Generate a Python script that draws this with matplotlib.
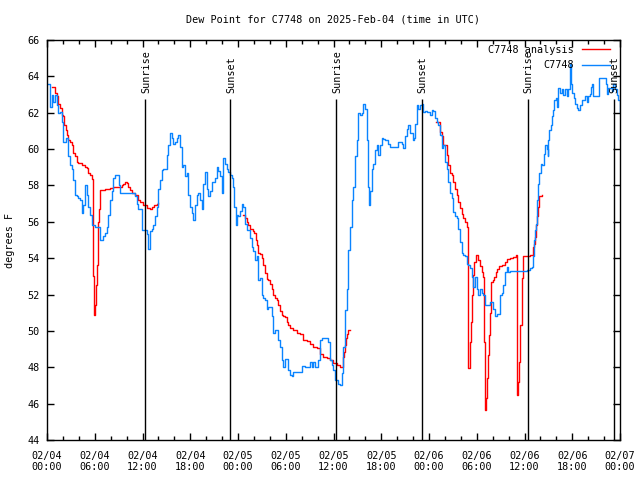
import numpy as np
import matplotlib
matplotlib.use("Agg")
import matplotlib.pyplot as plt
from matplotlib.ticker import MultipleLocator, FixedLocator

nan = float("nan")

# hours since 2025-02-04 00:00 UTC
obs_hours = [0.16, 0.38, 0.59, 0.79, 1.01, 1.26, 1.42, 1.63, 1.85, 1.95, 2.05, 2.35, 2.68, 2.89, 3.10, 3.30,
             3.52, 3.73, 3.93, 4.15, 4.36, 4.56, 4.81, 4.99, 5.19, 5.40, 5.62, 6.03, 6.45, 6.66, 6.87, 7.07,
             7.29, 7.50, 7.70, 7.92, 8.13, 8.33, 8.54, 8.96, 9.05, 9.17, 10.05, 10.97, 11.06, 11.27, 11.47,
             11.90, 11.98, 12.31, 12.53, 12.73, 12.94, 13.16, 13.36, 13.57, 13.78, 13.99, 14.20, 14.41, 14.61,
             15.04, 15.12, 15.24, 15.46, 15.67, 15.87, 16.08, 16.30, 16.50, 16.71, 16.93, 17.13, 17.34, 17.55,
             17.76, 17.97, 18.18, 18.38, 18.60, 18.81, 19.01, 19.23, 19.44, 19.64, 19.85, 20.07, 20.27, 20.48,
             20.70, 21.11, 21.32, 21.53, 21.74, 21.95, 22.15, 22.37, 22.58, 22.78, 23.00, 23.21, 23.41, 23.50,
             23.71, 23.84, 24.04, 24.25, 24.47, 24.67, 24.88, 25.09, 25.30, 25.51, 25.72, 25.92, 26.14, 26.35,
             26.55, 26.76, 26.98, 27.18, 27.39, 27.61, 27.81, 28.02, 28.24, 28.44, 28.65, 28.87, 29.07, 29.28,
             29.49, 29.70, 29.91, 30.12, 30.32, 30.54, 30.75, 30.95, 31.38, 31.79, 32.00, 32.42, 32.84, 33.05,
             33.26, 33.46, 33.68, 34.09, 34.31, 34.52, 35.15, 35.35, 35.56, 35.78, 35.98, 36.19, 36.40, 36.60,
             36.82, 37.03, 37.23, 37.45, 37.66, 37.86, 38.08, 38.29, 38.49, 38.70, 38.92, 39.12, 39.33, 39.55,
             39.75, 39.96, 40.17, 40.37, 40.50, 40.63, 40.80, 41.00, 41.22, 41.43, 41.63, 41.84, 42.06, 42.26,
             42.47, 42.89, 43.10, 43.94, 44.14, 44.36, 44.57, 44.77, 44.99, 45.20, 45.40, 45.61, 45.83, 46.03,
             46.16, 46.24, 46.46, 46.66, 46.87, 47.08, 47.29, 47.50, 47.71, 48.13, 48.34, 48.54, 48.76, 48.97,
             49.17, 49.38, 49.60, 49.80, 50.01, 50.22, 50.43, 50.64, 50.85, 51.06, 51.27, 51.48, 51.69, 51.90,
             52.11, 52.31, 52.53, 52.74, 52.94, 53.15, 53.37, 53.57, 53.78, 53.99, 54.20, 54.41, 54.62, 54.82,
             55.04, 55.45, 55.67, 55.88, 56.08, 56.30, 56.51, 56.71, 56.92, 57.14, 57.34, 57.55, 57.77, 57.97,
             58.18, 60.07, 60.28, 60.48, 60.69, 60.91, 61.03, 61.20, 61.32, 61.45, 61.54, 61.61, 61.74, 61.86,
             62.04, 62.16, 62.37, 62.49, 62.58, 62.79, 62.92, 63.00, 63.12, 63.30, 63.42, 63.62, 63.75, 63.92,
             64.05, 64.25, 64.46, 64.68, 64.88, 65.09, 65.31, 65.51, 65.72, 65.85, 66.01, 66.22, 66.35, 66.56,
             66.76, 66.98, 67.19, 67.39, 67.61, 67.82, 68.02, 68.23, 68.36, 68.45, 68.65, 69.28, 69.40, 70.12,
             70.20, 70.41, 70.53, 70.75, 70.96, 71.16, 71.38, 71.59, 71.78, 72.0]
obs_dewpt = [63.6, 62.3, 63.0, 62.6, 63.0, 62.4, 62.0, 62.05, 61.5, 60.6, 60.4, 60.6, 59.6, 59.1, 58.9, 58.3,
             57.5, 57.4, 57.3, 57.2, 56.5, 56.9, 58.0, 57.5, 56.8, 56.4, 55.8, 55.7, 55.7, 55.0, 55.0, 55.2,
             55.4, 55.7, 56.4, 57.2, 57.7, 58.4, 58.6, 58.6, 58.0, 57.6, 57.6, 57.6, 57.4, 57.0, 56.7,
             56.5, 55.55, 55.55, 55.35, 54.5, 55.5, 55.6, 55.8, 56.3, 56.8, 57.8, 58.3, 58.85, 58.9,
             58.9, 59.7, 60.2, 60.9, 60.6, 60.3, 60.4, 60.6, 60.8, 60.1, 59.0, 59.1, 58.5, 58.7,
             57.5, 56.8, 56.5, 56.1, 56.9, 57.5, 57.6, 57.2, 56.7, 58.1, 58.75, 57.8, 57.4, 57.7,
             58.2, 58.4, 59.0, 58.8, 58.5, 57.6, 59.5, 59.2, 58.9, 58.75, 58.6, 58.4, 57.9, 56.8,
             55.8, 56.4, 56.3, 56.6, 57.0, 56.8, 55.9, 55.55, 55.55, 55.1, 54.6, 54.4, 53.9, 54.1,
             52.8, 52.9, 52.0, 51.8, 51.7, 51.2, 51.3, 51.3, 50.8, 49.9, 50.05, 50.05, 49.5, 49.1,
             48.4, 48.0, 48.45, 48.45, 47.85, 47.6, 47.5, 47.75, 47.75, 47.75, 48.07, 48.0, 48.0, 48.3,
             48.0, 48.3, 48.0, 48.4, 49.5, 49.6, 49.6, 49.4, 48.4, 48.1, 47.85, 47.3, 47.3, 47.1,
             47.0, 47.7, 49.1, 51.15, 52.3, 54.45, 55.7, 57.2, 57.9, 59.6, 60.5, 61.97, 61.9, 62.0,
             62.5, 62.2, 60.5, 57.9, 56.9, 57.7, 58.9, 59.2, 59.95, 60.2, 59.7, 60.2, 60.6, 60.55,
             60.5, 60.3, 60.1, 60.1, 60.4, 60.4, 60.3, 60.05, 60.7, 61.1, 61.3, 60.9, 60.9, 60.5,
             60.6, 61.4, 62.4, 62.2, 62.45, 62.5, 62.05, 62.1, 62.05, 61.9, 62.15, 62.1, 61.7, 61.5,
             61.3, 60.8, 60.05, 60.2, 59.3, 58.9, 58.2, 57.6, 57.3, 56.55, 56.3, 56.2, 55.6, 54.9,
             54.3, 54.2, 54.1, 53.7, 53.6, 53.45, 52.95, 52.4, 52.95, 52.3, 51.95, 52.3, 52.1, 51.95,
             51.4, 51.4, 51.6, 51.6, 51.2, 50.8, 50.95, 50.95, 51.95, 52.1, 52.5, 53.25, 53.5, 53.25,
             53.3, 53.3, 53.35, 53.35, 53.45, 53.5, 54.1, 55.0, 55.55, 55.9, 56.5, 57.2, 58.1, 58.7,
             59.2, 59.1, 59.1, 59.75, 60.2, 60.0, 59.6, 60.5, 61.05, 61.3, 61.8, 62.15, 62.7, 62.8,
             62.3, 63.35, 63.1, 63.3, 62.95, 63.3, 62.9, 63.3, 64.7, 63.6, 63.1, 62.8, 62.5, 62.25,
             62.15, 62.4, 62.7, 62.7, 62.9, 62.6, 62.9, 63.05, 63.4, 63.6, 62.9, 62.9, 63.9, 63.9,
             63.6, 63.05, 63.35, 63.35, 63.2, 63.6, 63.3, 62.95, 62.7, 62.05]

# analysis, nan marks the gaps
ana_hours = [0.59, 0.92, 1.01, 1.22, 1.42, 1.63, 1.85, 2.05, 2.17, 2.35, 2.48, 2.68, 2.89, 3.10, 3.30, 3.52,
             3.73, 3.93, 4.36, 4.78, 4.99, 5.19, 5.40, 5.62, 5.74, 5.82, 5.87, 6.03, 6.12, 6.25, 6.37, 6.45,
             6.53, 6.66, 7.29, 7.92, 8.33, 8.96, 9.39, 9.59, 9.80, 10.02, 10.22, 10.43, 10.64, 10.84, 11.06,
             11.47, 11.69, 12.10, 12.53, 12.94, 13.16, 13.48, 13.78, 13.99,
             19.0,
             24.67, 24.88, 25.09, 25.30, 25.51, 25.85, 26.01, 26.22, 26.35, 26.55, 26.76, 26.98, 27.18, 27.39,
             27.61, 27.81, 28.02, 28.24, 28.44, 28.65, 28.87, 29.07, 29.28, 29.49, 29.70, 29.91, 30.12, 30.32,
             30.54, 30.95, 31.38, 31.79, 32.21, 32.63, 33.05, 33.46, 33.89, 34.31, 34.72, 35.15, 35.56, 35.98,
             36.40, 36.82, 37.03, 37.16, 37.32, 37.45, 37.57, 37.66, 37.86, 38.08,
             43.0,
             48.88, 49.17, 49.38, 49.60, 49.80, 50.01, 50.22, 50.43, 50.64, 50.85, 51.06, 51.27, 51.48, 51.69,
             51.90, 52.11, 52.31, 52.53, 52.74, 52.87, 52.94, 53.07, 53.15, 53.28, 53.44, 53.57, 53.70, 53.87,
             54.07, 54.20, 54.41, 54.62, 54.82, 54.91, 55.04, 55.16, 55.25, 55.38, 55.54, 55.67, 55.79, 56.01,
             56.17, 56.42, 56.59, 56.80, 57.14, 57.55, 57.84, 58.18, 58.60, 58.97, 59.02, 59.10, 59.19, 59.27,
             59.44, 59.65, 59.86, 60.28, 60.69, 60.91, 61.03, 61.20, 61.32, 61.45, 61.54, 61.66, 61.82, 62.16]
ana_dewpt = [63.4, 63.4, 63.1, 62.9, 62.5, 62.25, 61.9, 61.8, 61.3, 61.05, 60.8, 60.5, 60.4, 60.2, 59.8, 59.6,
             59.3, 59.25, 59.1, 59.0, 58.95, 58.7, 58.6, 58.35, 54.6, 53.0, 50.85, 51.4, 52.5, 53.6, 55.2, 56.0,
             56.7, 57.75, 57.8, 57.85, 57.9, 57.9, 58.0, 58.1, 58.2, 58.15, 57.9, 57.75, 57.6, 57.6, 57.5,
             57.2, 57.1, 56.9, 56.75, 56.7, 56.8, 56.9, 57.0, 57.05,
             nan,
             56.35, 56.2, 56.0, 55.8, 55.6, 55.5, 55.4, 55.0, 54.7, 54.3, 54.25, 54.0, 53.6, 53.2,
             52.85, 52.8, 52.6, 52.3, 51.95, 51.8, 51.7, 51.4, 51.1, 50.9, 50.8, 50.75, 50.5, 50.35,
             50.15, 50.05, 49.9, 49.85, 49.5, 49.45, 49.3, 49.1, 49.05, 48.75, 48.55, 48.5, 48.4, 48.25,
             48.1, 48.0, 48.0, 48.55, 48.85, 49.2, 49.6, 49.85, 50.05, 50.05,
             nan,
             61.5, 61.5, 60.95, 60.7, 60.2, 60.2, 59.7, 59.15, 58.7, 58.6, 58.2, 57.8, 57.5, 57.1,
             56.75, 56.45, 56.2, 56.0, 55.7, 51.95, 47.95, 47.95, 49.4, 50.5, 51.95, 53.05, 53.8, 54.15,
             54.15, 53.9, 53.55, 53.25, 52.95, 49.4, 45.65, 46.3, 47.4, 48.7, 49.8, 51.0, 52.7, 52.8,
             52.95, 53.25, 53.4, 53.55, 53.65, 53.8, 53.95, 54.0, 54.05, 54.15, 50.3, 46.45, 47.2, 48.3,
             50.3, 52.9, 54.1, 54.1, 54.2, 54.2, 54.6, 54.8, 55.15, 55.8, 56.3, 56.8, 57.4, 57.45]

sunrise_hours = [12.35, 36.35, 60.42]
sunset_hours = [23.05, 47.12, 71.2]

tick_hours = list(range(0, 73, 6))
tick_labels = ["02/04\n00:00", "02/04\n06:00", "02/04\n12:00", "02/04\n18:00",
               "02/05\n00:00", "02/05\n06:00", "02/05\n12:00", "02/05\n18:00",
               "02/06\n00:00", "02/06\n06:00", "02/06\n12:00", "02/06\n18:00",
               "02/07\n00:00"]

font = "DejaVu Sans Mono"
fs = 7.3
plt.rcParams['font.family'] = font

fig = plt.figure(figsize=(6.4, 4.8), dpi=100)
ax = fig.add_axes([47 / 640, 40 / 480, 573 / 640, 400 / 480])

# split the analysis at the nan gaps so the steps don't bridge them
ah = np.array(ana_hours)
av = np.array(ana_dewpt)
breaks = np.where(np.isnan(av))[0]
start = 0
for i, stop in enumerate(list(breaks) + [len(av)]):
    ax.plot(ah[start:stop], av[start:stop], color="#ff0000", lw=1.0, drawstyle="steps-post",
            label="C7748 analysis" if i == 0 else None)
    start = stop + 1
ax.plot(obs_hours, obs_dewpt, color="#0a84ff", lw=1.0, drawstyle="steps-post", label="C7748")

for t in sunrise_hours:
    ax.vlines(t, 44, 62.75, color="black", lw=1.0)
    ax.text(t + 0.1, 63.1, "Sunrise", rotation=90, ha="center", va="bottom", fontsize=fs)
for t in sunset_hours:
    ax.vlines(t, 44, 62.75, color="black", lw=1.0)
    ax.text(t + 0.1, 63.1, "Sunset", rotation=90, ha="center", va="bottom", fontsize=fs)

ax.set_xlim(0, 72)
ax.set_ylim(44, 66)
ax.xaxis.set_major_locator(FixedLocator(tick_hours))
ax.set_xticklabels(tick_labels, fontsize=fs, linespacing=1.1)
ax.xaxis.set_minor_locator(MultipleLocator(2))
ax.yaxis.set_major_locator(MultipleLocator(2))
ax.tick_params(axis="both", which="both", direction="in", top=True, right=True, width=1.0)
ax.tick_params(axis="both", which="major", length=5, labelsize=fs)
ax.tick_params(axis="x", which="major", pad=8)
ax.tick_params(axis="y", which="major", pad=5)
ax.tick_params(axis="x", which="minor", length=3)
for sp in ax.spines.values():
    sp.set_linewidth(1.0)

ax.set_ylabel("degrees F", fontsize=fs, labelpad=9)
fig.text(333 / 640, 1 - 20 / 480, "Dew Point for C7748 on 2025-Feb-04 (time in UTC)",
         ha="center", va="center", fontsize=fs)

leg = ax.legend(loc="upper right", bbox_to_anchor=(610 / 640, 1 - 45 / 480),
                bbox_transform=fig.transFigure, frameon=False, markerfirst=False,
                fontsize=fs, handlelength=2.8, handletextpad=0.8, labelspacing=0.5,
                borderpad=0, borderaxespad=0)
for txt in leg.get_texts():
    txt.set_ha("right")

fig.savefig("out.png", dpi=100)
